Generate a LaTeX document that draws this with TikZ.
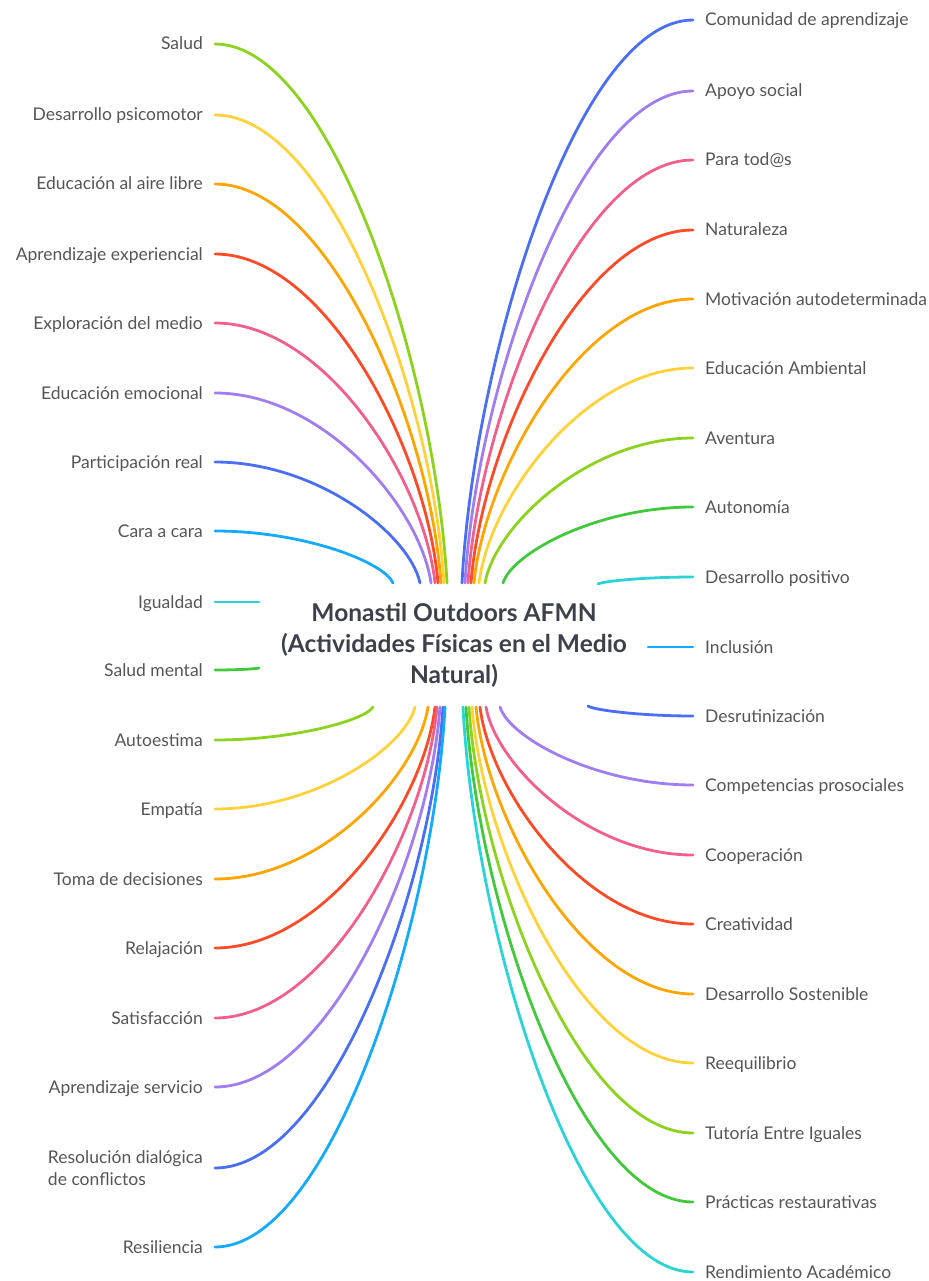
\documentclass[tikz,border=0pt]{standalone}
\usepackage{fontspec}
\setmainfont{Lato}
\usetikzlibrary{calc}
\definecolor{mmblue}{RGB}{74,110,245}
\definecolor{mmpurple}{RGB}{160,125,240}
\definecolor{mmpink}{RGB}{242,95,140}
\definecolor{mmred}{RGB}{255,75,40}
\definecolor{mmorange}{RGB}{255,165,0}
\definecolor{mmyellow}{RGB}{255,210,60}
\definecolor{mmlime}{RGB}{140,210,30}
\definecolor{mmgreen}{RGB}{65,200,60}
\definecolor{mmcyan}{RGB}{45,210,215}
\definecolor{mmlblue}{RGB}{20,170,255}
\definecolor{labelgray}{RGB}{85,85,85}
\definecolor{rootgray}{RGB}{60,64,72}

\begin{document}
\begin{tikzpicture}[
    x=1pt, y=-1pt,
    topic/.style={font=\fontsize{17.5}{22}\selectfont, text=labelgray, inner xsep=12pt, inner ysep=2pt,
        text height=13pt, text depth=1pt},
    topicL/.style={topic, anchor=east},
    topicR/.style={topic, anchor=west},
    root/.style={font=\fontsize{24.5}{31}\selectfont\bfseries, text=rootgray, align=center},
    branch/.style={line width=2.8pt, line cap=round}
]
    \useasboundingbox (0,0) rectangle (928,1281);

    % Central topic
    \node[root] (root) at (454,645) {Monastil Outdoors AFMN\\(Actividades Físicas en el Medio\\Natural)};

    % Left branches
    \foreach \txt/\yy/\px/\py/\col [count=\i] in {
        Salud\hspace{4pt}/44/447/583/mmlime,
        Desarrollo psicomotor/115/444/583/mmyellow,
        Educación al aire libre/184/441/583/mmorange,
        Aprendizaje experiencial/254/438/583/mmred,
        Exploración del medio/323/435/583/mmpink,
        Educación emocional/393/431/583/mmpurple,
        Participación real/462/420/583/mmblue,
        Cara a cara/531/393/583/mmlblue,
        Igualdad/602/259/602/mmcyan,
        Salud mental/670/259/668/mmgreen,
        Autoestima/740/373/707/mmlime,
        Empatía/809/415/707/mmyellow,
        Toma de decisiones/879/428/707/mmorange,
        Relajación/948/435/707/mmred,
        Satisfacción/1018/437/707/mmpink,
        Aprendizaje servicio/1087/440/707/mmpurple,
        {\begin{tabular}{@{}l@{}}Resolución dialógica\\de conflictos\end{tabular}}/1168/443/707/mmblue,
        Resiliencia/1247/445/707/mmlblue}{
        \node[topicL] (l\i) at (215,\yy) {\txt};
        \coordinate (pl\i) at (\px,\py);
        \draw[branch, draw=\col] let \p1=(pl\i), \p2=(l\i.east) in
            (\p1) .. controls ({\x1+0.05*(\x2-\x1)},{\y1+0.4*(\y2-\y1)}) and ({0.5*\x1+0.5*\x2},\y2) .. (\p2);
    }

    % Right branches
    \foreach \txt/\yy/\px/\py/\col [count=\i] in {
        Comunidad de aprendizaje/20/462/583/mmblue,
        Apoyo social/91/465/583/mmpurple,
        Para tod@s/160/468/583/mmpink,
        Naturaleza/230/471/583/mmred,
        Motivación autodeterminada/299/474/583/mmorange,
        Educación Ambiental/368/479/583/mmyellow,
        Aventura/438/485/583/mmlime,
        Autonomía/507/503/583/mmgreen,
        Desarrollo positivo/577/598/584/mmcyan,
        Inclusión/647/648/647/mmlblue,
        Desrutinización/716/588/706/mmblue,
        Competencias prosociales/785/500/707/mmpurple,
        Cooperación/855/486/707/mmpink,
        Creatividad/924/480/707/mmred,
        Desarrollo Sostenible/994/476/707/mmorange,
        Reequilibrio/1063/472/707/mmyellow,
        Tutoría Entre Iguales/1133/469/707/mmlime,
        Prácticas restaurativas/1202/466/707/mmgreen,
        Rendimiento Académico/1272/463/707/mmcyan}{
        \node[topicR] (r\i) at (693,\yy) {\txt};
        \coordinate (pr\i) at (\px,\py);
        \draw[branch, draw=\col] let \p1=(pr\i), \p2=(r\i.west) in
            (\p1) .. controls ({\x1+0.05*(\x2-\x1)},{\y1+0.4*(\y2-\y1)}) and ({0.5*\x1+0.5*\x2},\y2) .. (\p2);
    }
\end{tikzpicture}
\end{document}
